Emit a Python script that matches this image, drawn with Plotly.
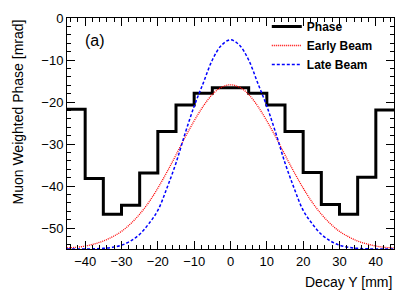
import plotly.graph_objects as go

# Histogram (Phase): bin edges and bin contents
bin_edges = [-45, -40, -35, -30, -25, -20, -15, -10, -5, 0, 5, 10, 15, 20, 25, 30, 35, 40, 45]
phase = [-21.7, -38.2, -46.7, -44.6, -36.9, -27.0, -20.7, -17.9, -16.6,
         -16.6, -17.9, -20.7, -27.0, -36.8, -44.4, -46.7, -37.9, -21.9]

# Curves
curve_x = [-45, -42.5, -40, -37.5, -35, -32.5, -30, -27.5, -25, -22.5, -20, -17.5, -15, -12.5, -10, -7.5, -5, -2.5,
           0, 2.5, 5, 7.5, 10, 12.5, 15, 17.5, 20, 22.5, 25, 27.5, 30, 32.5, 35, 37.5, 40, 42.5, 45]
early_beam = [-54.75, -54.6, -54.3, -53.8, -53.1, -52.1, -50.8, -49.0, -46.7, -43.9, -40.5, -36.7, -32.6, -28.4, -24.5, -21.0, -18.2, -16.5,
              -15.9, -16.5, -18.2, -21.0, -24.5, -28.4, -32.6, -36.7, -40.5, -43.9, -46.7, -49.0, -50.8, -52.1, -53.1, -53.8, -54.3, -54.6, -54.75]
late_beam = [-55.0, -55.0, -55.0, -54.95, -54.85, -54.6, -54.1, -53.1, -51.5, -49.0, -45.8, -40.5, -34.5, -27.5, -21.0, -15.5, -10.0, -6.5,
             -5.2, -6.5, -10.0, -15.5, -21.0, -27.5, -34.5, -40.5, -45.8, -49.0, -51.5, -53.1, -54.1, -54.6, -54.85, -54.95, -55.0, -55.0, -55.0]

font_family = "Liberation Sans, Arial, Helvetica, sans-serif"

fig = go.Figure()
fig.add_trace(go.Scatter(
    x=bin_edges, y=phase + [phase[-1]], mode="lines", line_shape="hv",
    line=dict(color="black", width=3), name="Phase"))
fig.add_trace(go.Scatter(
    x=curve_x, y=early_beam, mode="lines", line_shape="spline",
    line=dict(color="#ff0000", width=1.3, dash="1px,1px"), name="Early Beam"))
fig.add_trace(go.Scatter(
    x=curve_x, y=late_beam, mode="lines", line_shape="spline",
    line=dict(color="#0000ff", width=1.5, dash="3px,2px"), name="Late Beam"))

axis_common = dict(
    showline=True, linecolor="black", linewidth=1, mirror="allticks",
    ticks="inside", ticklen=8, tickcolor="black", tickwidth=1,
    showgrid=False, zeroline=False,
    tickfont=dict(family=font_family, size=13, color="black"),
)

fig.update_xaxes(range=[-45, 45], dtick=10, tick0=0,
                 minor=dict(dtick=2, tick0=0, ticks="inside", ticklen=4, tickcolor="black", showgrid=False),
                 **axis_common)
fig.update_yaxes(range=[-55, 0], dtick=10, tick0=0,
                 minor=dict(dtick=2, tick0=0, ticks="inside", ticklen=4, tickcolor="black", showgrid=False),
                 **axis_common)

fig.update_layout(
    width=415, height=298,
    margin=dict(l=67, r=21, t=15, b=48.5),
    paper_bgcolor="white", plot_bgcolor="white",
    font=dict(family=font_family, color="black"),
    showlegend=True,
    legend=dict(x=0.611, y=1.026, xanchor="left", yanchor="top",
                bgcolor="rgba(0,0,0,0)", borderwidth=0,
                font=dict(family=font_family, size=12, color="black", weight="bold"),
                itemwidth=30, tracegroupgap=0),
    annotations=[
        dict(text="Muon Weighted Phase [mrad]", xref="paper", yref="paper",
             x=(17 - 67) / 327, y=1.0, xanchor="center", yanchor="top",
             textangle=-90, showarrow=False,
             font=dict(family=font_family, size=14, color="black")),
        dict(text="Decay Y [mm]", xref="paper", yref="paper",
             x=1.0, y=-0.1426, xanchor="right", yanchor="middle", showarrow=False,
             font=dict(family=font_family, size=14, color="black")),
        dict(text="(a)", xref="paper", yref="paper",
             x=0.049, y=0.904, xanchor="left", yanchor="middle", showarrow=False,
             font=dict(family=font_family, size=16, color="black")),
    ],
)

fig.write_html("out.html",
               config={"displayModeBar": False},
               post_script="document.body.style.margin='0';document.body.style.padding='0';")
